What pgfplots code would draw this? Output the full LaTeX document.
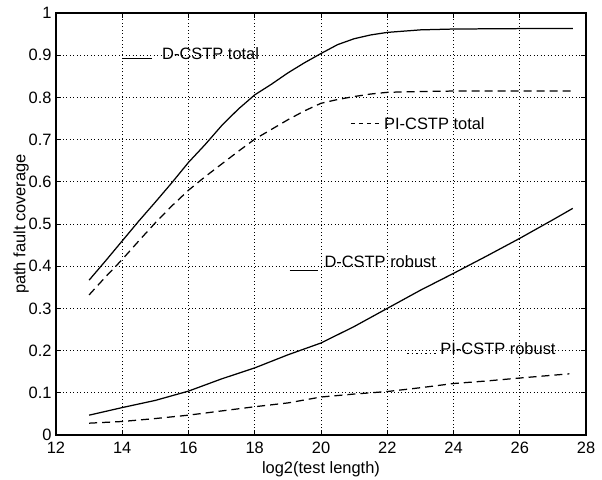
\documentclass[border=0pt]{standalone}
\usepackage{pgfplots}
\pgfplotsset{compat=1.18}
\usepackage{fontspec}
\setmainfont{Liberation Sans}
\begin{document}
\begin{tikzpicture}
\begin{axis}[
  scale only axis, width=530bp, height=422bp,
  xmin=12, xmax=28, ymin=0, ymax=1,
  xtick={12,14,16,18,20,22,24,26,28},
  ytick={0,0.1,0.2,0.3,0.4,0.5,0.6,0.7,0.8,0.9,1},
  yticklabels={0,0.1,0.2,0.3,0.4,0.5,0.6,0.7,0.8,0.9,1},
  grid=major,
  grid style={black, line width=0.8pt, dash pattern=on 0.9pt off 2.6pt},
  axis line style={line width=1.2pt},
  tick align=inside, major tick length=5bp,
  tick style={black, line width=0.8pt},
  font=\fontsize{16.5}{19}\selectfont,
  tick label style={font=\fontsize{16.5}{19}\selectfont},
  /pgf/number format/assume math mode=true,
  xticklabel style={yshift=-4bp},
  yticklabel style={xshift=-1bp},
  xlabel={log2(test length)},
  ylabel={path fault coverage},
  xlabel style={at={(axis description cs:0.5,-0.080)}, anchor=center},
  ylabel style={at={(axis description cs:-0.066,0.5)}, anchor=center},
  clip=false,
]
% D-CSTP total
\addplot[black, line width=1.25pt] coordinates {
 (13,0.367) (13.5,0.413) (14,0.460) (14.5,0.507) (15,0.552) (15.5,0.598)
 (16,0.646) (16.5,0.688) (17,0.733) (17.5,0.772) (18,0.806) (18.5,0.831)
 (19,0.858) (19.5,0.882) (20,0.904) (20.5,0.925) (21,0.939) (21.5,0.948)
 (22,0.954) (23,0.960) (24,0.962) (26,0.963) (27.6,0.963)};
% PI-CSTP total
\addplot[black, line width=1.25pt, dash pattern=on 8bp off 5bp] coordinates {
 (13,0.332) (13.5,0.375) (14,0.416) (14.5,0.460) (15,0.503) (15.5,0.543)
 (16,0.580) (16.5,0.612) (17,0.642) (17.5,0.672) (18,0.701) (18.5,0.724)
 (19,0.747) (19.5,0.768) (20,0.786) (20.5,0.795) (21,0.802) (21.5,0.808)
 (22,0.812) (23,0.814) (24,0.815) (26,0.815) (27.6,0.815)};
% D-CSTP robust
\addplot[black, line width=1.25pt] coordinates {
 (13,0.047) (14,0.065) (15,0.082) (16,0.104) (17,0.133) (18,0.159)
 (19,0.190) (20,0.218) (21,0.257) (22,0.300) (23,0.343) (24,0.383)
 (25,0.424) (26,0.466) (27,0.510) (27.6,0.537)};
% PI-CSTP robust
\addplot[black, line width=1.25pt, dash pattern=on 8bp off 5bp] coordinates {
 (13,0.028) (14,0.032) (15,0.039) (16,0.047) (17,0.057) (18,0.067)
 (19,0.076) (20,0.090) (21,0.097) (22,0.103) (23,0.112) (24,0.122)
 (25,0.128) (26,0.135) (27.5,0.145)};
% label samples
\addplot[black, line width=1.25pt, forget plot] coordinates {(14.0,0.893) (14.9,0.893)};
\addplot[black, line width=1.25pt, dash pattern=on 4bp off 4bp, forget plot] coordinates {(20.9,0.739) (21.75,0.739)};
\addplot[black, line width=1.25pt, forget plot] coordinates {(19.05,0.389) (19.9,0.389)};
\addplot[black, line width=1.25pt, dash pattern=on 1.5bp off 3bp, forget plot] coordinates {(22.6,0.194) (23.5,0.194)};
\node[anchor=base west, inner sep=0pt] at (axis cs:15.2,0.889) {D-CSTP total};
\node[anchor=base west, inner sep=0pt] at (axis cs:21.9,0.724) {PI-CSTP total};
\node[anchor=base west, inner sep=0pt] at (axis cs:20.1,0.396) {D-CSTP robust};
\node[anchor=base west, inner sep=0pt] at (axis cs:23.6,0.190) {PI-CSTP robust};
\end{axis}
\path (current axis.south west) ++(-56bp,-44bp) coordinate (bbA);
\path (current axis.north east) ++(16bp,13bp) coordinate (bbB);
\useasboundingbox (bbA) rectangle (bbB);
\end{tikzpicture}
\end{document}
